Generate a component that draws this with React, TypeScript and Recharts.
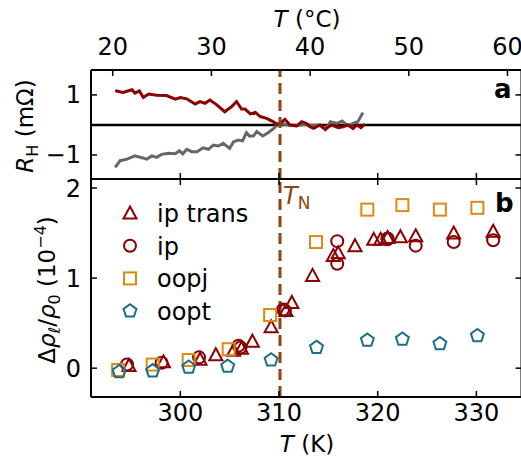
import React from "react";
import { Line, LineChart, ReferenceLine, Scatter, ScatterChart, XAxis, YAxis } from "recharts";

const FONT = "DejaVu Sans";
const RED = "#8b0000";
const GRAY = "#666666";
const ORANGE = "#dd8a12";
const TEAL = "#1a6e8a";
const BROWN = "#8b4513";

const X_DOMAIN: [number, number] = [290.95, 334.57];
const T_NEEL = 310.1;

const kelvinTicks = [300, 310, 320, 330];
const celsiusTicks = [20, 30, 40, 50, 60];

// panel a: Hall resistance (mOhm)
const redT = [293.4, 294.2, 295.1, 295.4, 295.85, 296.25, 296.8, 297.6, 298.6, 299.5, 300.0, 300.65, 301.5, 302.0, 302.5, 303.0, 303.7, 304.5, 305.2, 305.7, 306.2, 306.55, 307.1, 307.6, 308.1, 308.75, 309.4, 309.8, 310.1, 310.6, 311.1, 311.8, 312.3, 312.8, 313.1, 313.5, 314.15, 314.7, 315.3, 316.0, 316.5, 317.0, 317.5, 317.9, 318.3, 318.7];
const redR = [1.14, 1.08, 1.17, 1.06, 1.13, 0.92, 1.03, 0.99, 0.98, 0.86, 0.91, 0.87, 0.7, 0.78, 0.72, 0.83, 0.67, 0.44, 0.61, 0.78, 0.53, 0.53, 0.37, 0.42, 0.28, 0.22, 0.11, 0.02, 0.05, 0.19, 0.0, -0.03, 0.11, 0.05, -0.05, -0.11, 0.0, -0.14, 0.0, -0.09, -0.06, 0.0, -0.12, 0.0, -0.09, 0.03];
const grayT = [293.4, 293.9, 294.6, 295.4, 296.1, 296.6, 297.1, 297.6, 298.1, 298.8, 299.5, 299.9, 300.25, 300.65, 301.15, 301.7, 302.3, 302.85, 303.35, 303.85, 304.35, 305.0, 305.4, 305.9, 306.3, 306.7, 307.0, 307.4, 307.75, 308.35, 308.9, 309.5, 309.95, 310.45, 311.1, 311.8, 312.5, 313.1, 314.15, 314.7, 315.2, 315.9, 316.4, 317.0, 317.5, 318.0, 318.5];
const grayR = [-1.41, -1.19, -1.14, -1.03, -1.09, -1.14, -1.03, -1.08, -0.98, -0.94, -0.96, -0.86, -0.96, -0.81, -0.89, -0.89, -0.76, -0.81, -0.67, -0.7, -0.61, -0.78, -0.56, -0.5, -0.53, -0.26, -0.37, -0.37, -0.22, -0.37, -0.26, -0.11, 0.05, 0.03, -0.02, -0.03, 0.02, -0.01, -0.01, -0.16, 0.11, 0.05, 0.13, -0.03, 0.05, 0.11, 0.41];

// panel b: magnetoresistance (1e-4)
const ipTransT = [294.8, 298.3, 302.0, 303.6, 305.4, 306.2, 307.3, 309.2, 310.7, 311.3, 313.4, 315.5, 316.0, 317.7, 319.6, 320.3, 321.0, 322.3, 323.85, 327.7, 331.7];
const ipTransV = [0.03, 0.07, 0.1, 0.15, 0.2, 0.22, 0.3, 0.46, 0.64, 0.73, 1.03, 1.25, 1.28, 1.36, 1.43, 1.43, 1.45, 1.46, 1.47, 1.5, 1.52];
const ipT = [294.6, 298.1, 301.9, 305.9, 306.1, 310.4, 310.6, 315.9, 315.9, 321.0, 321.0, 323.85, 327.7, 331.7];
const ipV = [0.04, 0.06, 0.12, 0.25, 0.23, 0.65, 0.64, 1.41, 1.16, 1.44, 1.43, 1.36, 1.4, 1.42];
const oopjT = [293.7, 297.2, 300.85, 304.9, 309.1, 313.75, 318.95, 322.5, 326.3, 330.1];
const oopjV = [-0.02, 0.04, 0.09, 0.21, 0.59, 1.4, 1.76, 1.81, 1.76, 1.78];
const ooptT = [293.8, 297.2, 300.85, 304.8, 309.2, 313.8, 318.95, 322.5, 326.3, 330.1];
const ooptV = [-0.04, -0.03, 0.01, 0.02, 0.09, 0.23, 0.31, 0.32, 0.27, 0.36];

const toRows = (ts: number[], vs: number[]) => ts.map((t, i) => ({ t, v: vs[i] }));

type Kind = "triangle" | "circle" | "square" | "pentagon";

function Marker({ kind, cx, cy, color }: { kind: Kind; cx: number; cy: number; color: string }) {
  const common = { fill: "none", stroke: color, strokeWidth: 2 };
  if (kind === "circle") return <circle cx={cx} cy={cy} r={6} {...common} />;
  if (kind === "square") return <rect x={cx - 6} y={cy - 6} width={12} height={12} {...common} />;
  if (kind === "triangle") {
    return <polygon points={`${cx},${cy - 6.5} ${cx + 6.5},${cy + 5.5} ${cx - 6.5},${cy + 5.5}`} {...common} />;
  }
  const pts = [0, 1, 2, 3, 4]
    .map((k) => {
      const a = ((-90 + k * 72) * Math.PI) / 180;
      return `${cx + 6.8 * Math.cos(a)},${cy + 6.8 * Math.sin(a)}`;
    })
    .join(" ");
  return <polygon points={pts} {...common} />;
}

const series: { name: string; kind: Kind; color: string; rows: { t: number; v: number }[] }[] = [
  { name: "ip trans", kind: "triangle", color: RED, rows: toRows(ipTransT, ipTransV) },
  { name: "ip", kind: "circle", color: RED, rows: toRows(ipT, ipV) },
  { name: "oopj", kind: "square", color: ORANGE, rows: toRows(oopjT, oopjV) },
  { name: "oopt", kind: "pentagon", color: TEAL, rows: toRows(ooptT, ooptV) },
];

const tickStyle = { fill: "#000", fontSize: 24, fontFamily: FONT };
const axisLine = { stroke: "#000", strokeWidth: 2 };
const tickLine = { stroke: "#000", strokeWidth: 1.5 };
const blank = () => "";
const minus = (v: number) => (v < 0 ? "\u2212" + Math.abs(v) : String(v));

function LegendBox() {
  return (
    <g transform="translate(110,195)">
      {series.map((s, i) => (
        <g key={s.name}>
          <Marker kind={s.kind} cx={20} cy={18 + i * 32.7} color={s.color} />
          <text x={47} y={27 + i * 32.7} fontSize={24} fontFamily={FONT} fill="#000">
            {s.name}
          </text>
        </g>
      ))}
    </g>
  );
}

export default function App() {
  const redRows = toRows(redT, redR);
  const grayRows = toRows(grayT, grayR);
  return (
    <div style={{ position: "absolute", left: 0, top: 0, width: 521, height: 462, overflow: "hidden", background: "#fff" }}>
      <div style={{ position: "absolute", left: 0, top: 0 }}>
        <LineChart width={530} height={181} margin={{ top: 0, right: 0, bottom: 0, left: 0 }}>
          <XAxis
            xAxisId="c"
            orientation="top"
            type="number"
            dataKey="t"
            domain={X_DOMAIN}
            allowDataOverflow
            ticks={celsiusTicks.map((c) => c + 273.15)}
            tickFormatter={(v: number) => String(Math.round(v - 273.15))}
            height={70}
            tickSize={-6}
            tickMargin={21}
            tick={tickStyle}
            axisLine={axisLine}
            tickLine={tickLine}
          />
          <XAxis
            xAxisId="k"
            type="number"
            dataKey="t"
            domain={X_DOMAIN}
            allowDataOverflow
            ticks={kelvinTicks}
            tickFormatter={blank}
            height={2}
            tickSize={-6}
            axisLine={axisLine}
            tickLine={tickLine}
          />
          <YAxis
            yAxisId="l"
            type="number"
            dataKey="v"
            domain={[-1.8, 1.83]}
            allowDataOverflow
            ticks={[-1, 0, 1]}
            tickFormatter={minus}
            width={91}
            tickSize={-6}
            tickMargin={16}
            tick={tickStyle}
            axisLine={axisLine}
            tickLine={tickLine}
          />
          <YAxis
            yAxisId="r"
            orientation="right"
            type="number"
            domain={[-1.8, 1.83]}
            allowDataOverflow
            ticks={[-1, 0, 1]}
            tickFormatter={blank}
            width={8.5}
            tickSize={-6}
            axisLine={axisLine}
            tickLine={tickLine}
          />
          <ReferenceLine xAxisId="k" yAxisId="l" y={0} stroke="#000" strokeWidth={2.5} />
          <Line xAxisId="k" yAxisId="l" data={grayRows} dataKey="v" stroke={GRAY} strokeWidth={3} dot={false} isAnimationActive={false} />
          <Line xAxisId="k" yAxisId="l" data={redRows} dataKey="v" stroke={RED} strokeWidth={3} dot={false} isAnimationActive={false} />
          <ReferenceLine xAxisId="k" yAxisId="l" x={T_NEEL} stroke={BROWN} strokeWidth={3} strokeDasharray="11 6" />
        </LineChart>
      </div>
      <div style={{ position: "absolute", left: 0, top: 0 }}>
        <ScatterChart width={530} height={462} margin={{ top: 178, right: 0, bottom: 0, left: 0 }}>
          <XAxis
            xAxisId="top"
            orientation="top"
            type="number"
            dataKey="t"
            domain={X_DOMAIN}
            allowDataOverflow
            ticks={kelvinTicks}
            tickFormatter={blank}
            height={1}
            tickSize={-6}
            axisLine={axisLine}
            tickLine={tickLine}
          />
          <XAxis
            xAxisId="k"
            type="number"
            dataKey="t"
            domain={X_DOMAIN}
            allowDataOverflow
            ticks={kelvinTicks}
            height={65}
            tickSize={-6}
            tickMargin={13}
            tick={tickStyle}
            axisLine={axisLine}
            tickLine={tickLine}
          />
          <YAxis
            yAxisId="l"
            type="number"
            dataKey="v"
            domain={[-0.32, 2.1]}
            allowDataOverflow
            ticks={[0, 1, 2]}
            width={91}
            tickSize={-6}
            tickMargin={16}
            tick={tickStyle}
            axisLine={axisLine}
            tickLine={tickLine}
          />
          <YAxis
            yAxisId="r"
            orientation="right"
            type="number"
            domain={[-0.32, 2.1]}
            allowDataOverflow
            ticks={[0, 1, 2]}
            tickFormatter={blank}
            width={8.5}
            tickSize={-6}
            axisLine={axisLine}
            tickLine={tickLine}
          />
          <ReferenceLine xAxisId="k" yAxisId="l" x={T_NEEL} stroke={BROWN} strokeWidth={3} strokeDasharray="11 6" />
          {series.map((s) => (
            <Scatter
              key={s.name}
              name={s.name}
              xAxisId="k"
              yAxisId="l"
              data={s.rows}
              isAnimationActive={false}
              shape={(p: any) => <Marker kind={s.kind} cx={p.cx} cy={p.cy} color={s.color} />}
            />
          ))}
        </ScatterChart>
      </div>
      <svg width={521} height={462} style={{ position: "absolute", left: 0, top: 0, pointerEvents: "none" }} fontFamily={FONT}>
        <LegendBox />
        <text x={307} y={27} fontSize={23} textAnchor="middle">
          <tspan fontStyle="italic">T</tspan> (°C)
        </text>
        <text x={307} y={452} fontSize={23} textAnchor="middle">
          <tspan fontStyle="italic">T</tspan> (K)
        </text>
        <text transform="translate(33,126) rotate(-90)" fontSize={23} textAnchor="middle">
          <tspan fontStyle="italic">R</tspan>
          <tspan fontSize={16} dy={5}>H</tspan>
          <tspan dy={-5}> (mΩ)</tspan>
        </text>
        <text transform="translate(55,290) rotate(-90)" fontSize={23} textAnchor="middle">
          Δ<tspan fontStyle="italic">ρ</tspan>
          <tspan fontSize={16} dy={5} fontStyle="italic">ℓ</tspan>
          <tspan dy={-5}>/</tspan>
          <tspan fontStyle="italic">ρ</tspan>
          <tspan fontSize={16} dy={5}>0</tspan>
          <tspan dy={-5}> (10</tspan>
          <tspan fontSize={16} dy={-9}>−4</tspan>
          <tspan dy={9}>)</tspan>
        </text>
        <text x={283} y={204} fontSize={24} fill={BROWN}>
          <tspan fontStyle="italic">T</tspan>
          <tspan fontSize={17} dy={5}>N</tspan>
        </text>
        <text x={494} y={98} fontSize={26} fontWeight="bold">a</text>
        <text x={495} y={212} fontSize={26} fontWeight="bold">b</text>
      </svg>
    </div>
  );
}
